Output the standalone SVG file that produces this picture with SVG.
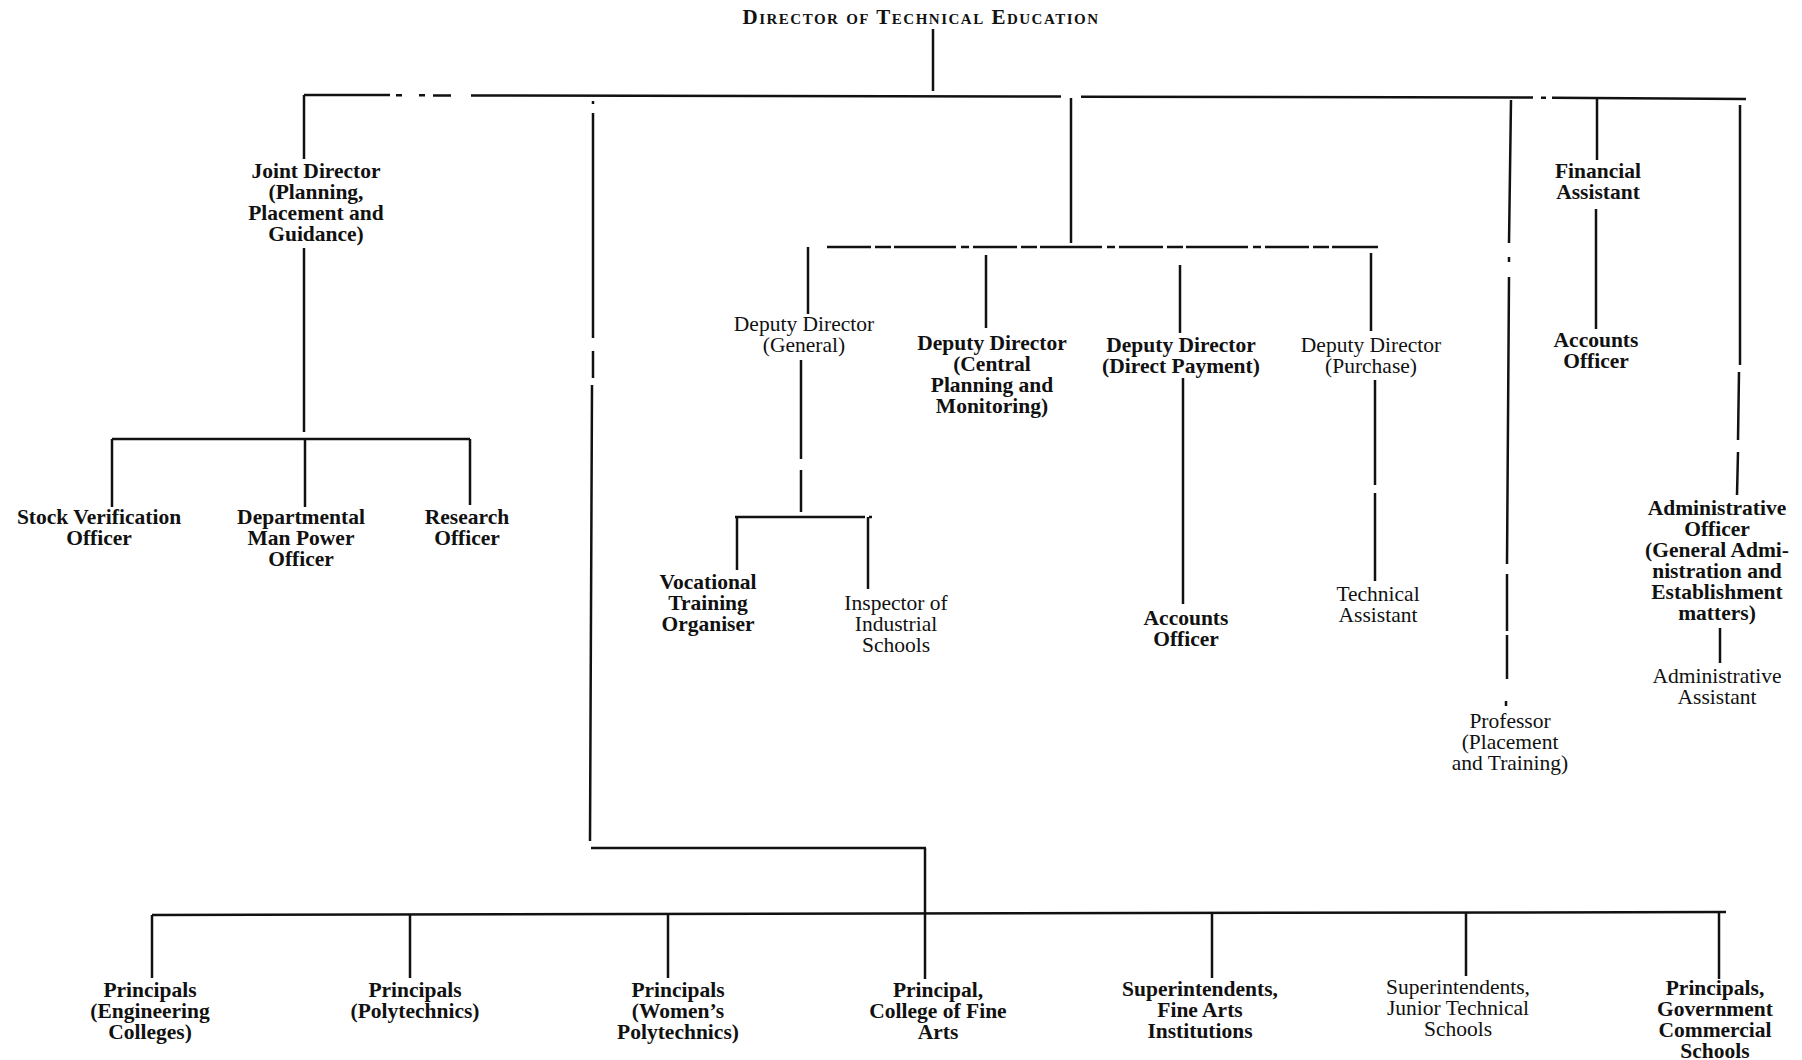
<svg xmlns="http://www.w3.org/2000/svg" width="1802" height="1060" viewBox="0 0 1802 1060">
<style>
.n text{font-family:"Liberation Serif","Times New Roman",serif;font-size:21.5px;font-weight:bold;text-anchor:middle;fill:#111}
.n.l text{font-weight:normal;font-size:21.5px}
.title text{font-family:"Liberation Serif","Times New Roman",serif;font-size:21px;font-weight:bold;font-variant:small-caps;letter-spacing:1.5px;text-anchor:middle;fill:#111}
.c path{fill:none;stroke:#111;stroke-width:2.5;stroke-linecap:butt}
.c .d{stroke-dasharray:44 4 16 3 62 5 8 4}
</style>
<rect width="1802" height="1060" fill="#fff"/>
<g id="connectors" class="c">
<path d="M933,29 V91"/>
<path d="M304,95 H390 M396,95.2 H402 M419,95.3 H425 M433,95.4 H451 M471,95.5 L1061,96.6 M1081,96.7 L1533,97.6 M1541,97.7 H1546 M1552,97.8 L1746,99"/>
<path d="M304,95 V159 M304,248 V432"/>
<path d="M112,439 H470 M112,439 V507 M305,439 V507 M470,439 V505"/>
<path d="M593,101 V104 M593,113 V338 M593,351 V378 M592,385 L590,841"/>
<path d="M591,848 H926 M925,848 V979"/>
<path d="M152,915 L1726,912"/>
<path d="M152,915 V978 M410,915 V978 M668,915 V978 M1212,914 V978 M1466,913 V976 M1719,912 V979"/>
<path d="M1071,98 V243"/>
<path class="d" d="M827,247 H1378"/>
<path d="M808,247 V314 M986,255 V328 M1180,265 V333 M1371,253 V331"/>
<path d="M801,360 V459 M801,470 V512"/>
<path d="M735,517 H821"/>
<path class="d" d="M821,517 H872"/>
<path d="M737,517 V570 M868,517 V589"/>
<path d="M1183,378 V604"/>
<path d="M1375,380 V485 M1375,493 V581"/>
<path d="M1511,100 L1509,243 M1509,257 V262 M1509,277 L1507,564 M1507,574 V631 M1507,635 V679 M1506,701 V706"/>
<path d="M1597,98 V160 M1596,209 V329"/>
<path d="M1740,105 V365 M1739,372 L1738,440 M1738,452 L1737,495"/>
<path d="M1720,628 V663"/>
</g>
<g id="director" class="title"><text x="921" y="24">Director of Technical Education</text></g>
<g id="joint-director" class="n"><text x="316" y="178"><tspan x="316">Joint Director</tspan><tspan x="316" dy="21">(Planning,</tspan><tspan x="316" dy="21">Placement and</tspan><tspan x="316" dy="21">Guidance)</tspan></text></g>
<g id="stock-verification" class="n"><text x="99" y="524"><tspan x="99">Stock Verification</tspan><tspan x="99" dy="21">Officer</tspan></text></g>
<g id="departmental" class="n"><text x="301" y="524"><tspan x="301">Departmental</tspan><tspan x="301" dy="21">Man Power</tspan><tspan x="301" dy="21">Officer</tspan></text></g>
<g id="research" class="n"><text x="467" y="524"><tspan x="467">Research</tspan><tspan x="467" dy="21">Officer</tspan></text></g>
<g id="dd-general" class="n l"><text x="804" y="331"><tspan x="804">Deputy Director</tspan><tspan x="804" dy="21">(General)</tspan></text></g>
<g id="dd-central" class="n"><text x="992" y="350"><tspan x="992">Deputy Director</tspan><tspan x="992" dy="21">(Central</tspan><tspan x="992" dy="21">Planning and</tspan><tspan x="992" dy="21">Monitoring)</tspan></text></g>
<g id="dd-direct" class="n"><text x="1181" y="352"><tspan x="1181">Deputy Director</tspan><tspan x="1181" dy="21">(Direct Payment)</tspan></text></g>
<g id="dd-purchase" class="n l"><text x="1371" y="352"><tspan x="1371">Deputy Director</tspan><tspan x="1371" dy="21">(Purchase)</tspan></text></g>
<g id="vocational" class="n"><text x="708" y="589"><tspan x="708">Vocational</tspan><tspan x="708" dy="21">Training</tspan><tspan x="708" dy="21">Organiser</tspan></text></g>
<g id="inspector" class="n l"><text x="896" y="610"><tspan x="896">Inspector of</tspan><tspan x="896" dy="21">Industrial</tspan><tspan x="896" dy="21">Schools</tspan></text></g>
<g id="accounts-officer-2" class="n"><text x="1186" y="625"><tspan x="1186">Accounts</tspan><tspan x="1186" dy="21">Officer</tspan></text></g>
<g id="technical-assistant" class="n l"><text x="1378" y="601"><tspan x="1378">Technical</tspan><tspan x="1378" dy="21">Assistant</tspan></text></g>
<g id="professor" class="n l"><text x="1510" y="728"><tspan x="1510">Professor</tspan><tspan x="1510" dy="21">(Placement</tspan><tspan x="1510" dy="21">and Training)</tspan></text></g>
<g id="financial-assistant" class="n"><text x="1598" y="178"><tspan x="1598">Financial</tspan><tspan x="1598" dy="21">Assistant</tspan></text></g>
<g id="accounts-officer-1" class="n"><text x="1596" y="347"><tspan x="1596">Accounts</tspan><tspan x="1596" dy="21">Officer</tspan></text></g>
<g id="administrative-officer" class="n"><text x="1717" y="515"><tspan x="1717">Administrative</tspan><tspan x="1717" dy="21">Officer</tspan><tspan x="1717" dy="21">(General Admi-</tspan><tspan x="1717" dy="21">nistration and</tspan><tspan x="1717" dy="21">Establishment</tspan><tspan x="1717" dy="21">matters)</tspan></text></g>
<g id="administrative-assistant" class="n l"><text x="1717" y="683"><tspan x="1717">Administrative</tspan><tspan x="1717" dy="21">Assistant</tspan></text></g>
<g id="principals-engineering" class="n"><text x="150" y="997"><tspan x="150">Principals</tspan><tspan x="150" dy="21">(Engineering</tspan><tspan x="150" dy="21">Colleges)</tspan></text></g>
<g id="principals-polytechnics" class="n"><text x="415" y="997"><tspan x="415">Principals</tspan><tspan x="415" dy="21">(Polytechnics)</tspan></text></g>
<g id="principals-womens" class="n"><text x="678" y="997"><tspan x="678">Principals</tspan><tspan x="678" dy="21">(Women’s</tspan><tspan x="678" dy="21">Polytechnics)</tspan></text></g>
<g id="principal-fine-arts" class="n"><text x="938" y="997"><tspan x="938">Principal,</tspan><tspan x="938" dy="21">College of Fine</tspan><tspan x="938" dy="21">Arts</tspan></text></g>
<g id="superintendents-fine-arts" class="n"><text x="1200" y="996"><tspan x="1200">Superintendents,</tspan><tspan x="1200" dy="21">Fine Arts</tspan><tspan x="1200" dy="21">Institutions</tspan></text></g>
<g id="superintendents-junior" class="n l"><text x="1458" y="994"><tspan x="1458">Superintendents,</tspan><tspan x="1458" dy="21">Junior Technical</tspan><tspan x="1458" dy="21">Schools</tspan></text></g>
<g id="principals-commercial" class="n"><text x="1715" y="995"><tspan x="1715">Principals,</tspan><tspan x="1715" dy="21">Government</tspan><tspan x="1715" dy="21">Commercial</tspan><tspan x="1715" dy="21">Schools</tspan></text></g>
</svg>
